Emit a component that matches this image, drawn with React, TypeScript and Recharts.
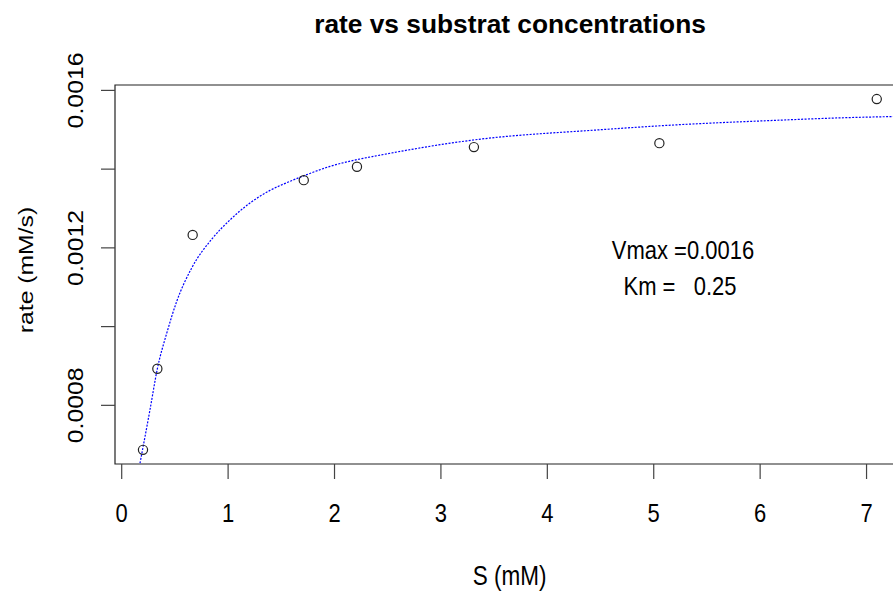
import React from 'react';
import { ComposedChart, Scatter, Line, XAxis, YAxis, ReferenceArea } from 'recharts';

// measured points (substrate mM, rate mM/s)
const sValues = [0.2, 0.335, 0.667, 1.711, 2.211, 3.31, 5.053, 7.096];
const rateValues = [0.000687, 0.000893, 0.001233, 0.001372, 0.001406, 0.001456, 0.001466, 0.001578];

// fitted curve
const curveS = [0.172, 0.266, 0.335, 0.423, 0.517, 0.658, 0.846, 1.018, 1.206, 1.394, 1.582, 1.739, 1.958, 2.209, 2.397, 3.305, 4.495, 5.247, 6.062, 6.845, 7.34];
const curveRate = [0.000653, 0.000789, 0.000893, 0.000983, 0.001064, 0.001149, 0.001222, 0.001271, 0.001314, 0.001346, 0.001369, 0.001386, 0.001407, 0.001424, 0.001434, 0.001474, 0.0015, 0.001513, 0.001523, 0.001531, 0.001534];

const xTicks = [0, 1, 2, 3, 4, 5, 6, 7];
const yTicks = [0.0008, 0.001, 0.0012, 0.0014, 0.0016];
const yTickLabels = ['0.0008', '', '0.0012', '', '0.0016'];

const xDomain: [number, number] = [-0.063, 7.352];
const yDomain: [number, number] = [0.000651, 0.0016137];

const points = sValues.map((s, i) => ({ s, v: rateValues[i] }));
const curve = curveS.map((s, i) => ({ s, v: curveRate[i] }));

const FONT = '"Liberation Sans", Arial, sans-serif';

const XTick = (props: any) => {
  const { x, y, payload } = props;
  return (
    <g transform={`translate(${x},${y + 40.7}) scale(1,1.2)`}>
      <text textAnchor="middle" fontFamily={FONT} fontSize={22} fill="#000">
        {payload.value}
      </text>
    </g>
  );
};

const YTick = (props: any) => {
  const { x, y, index } = props;
  const label = yTickLabels[index] ?? '';
  if (!label) return <g />;
  return (
    <g transform={`translate(${x - 15.7},${y}) rotate(-90) scale(1.13,1)`}>
      <text textAnchor="middle" fontFamily={FONT} fontSize={22} fill="#000">
        {label}
      </text>
    </g>
  );
};

const OpenCircle = (props: any) => {
  const { cx, cy } = props;
  return <circle cx={cx} cy={cy} r={4.6} fill="none" stroke="#222" strokeWidth={1.2} />;
};

const App: React.FC = () => {
  return (
    <div style={{ position: 'absolute', left: 0, top: 0, width: 893, height: 591, overflow: 'hidden', background: '#fff' }}>
      <ComposedChart width={910} height={591} margin={{ top: 85, right: 6, bottom: 0, left: 15 }}>
        <XAxis
          type="number"
          dataKey="s"
          domain={xDomain}
          ticks={xTicks}
          allowDataOverflow
          height={127}
          tickSize={15}
          tickMargin={2}
          axisLine={false}
          tickLine={{ stroke: '#444', strokeWidth: 1.2 }}
          tick={<XTick />}
        />
        <YAxis
          type="number"
          dataKey="v"
          domain={yDomain}
          ticks={yTicks}
          allowDataOverflow
          width={100}
          tickSize={14}
          tickMargin={2}
          axisLine={false}
          tickLine={{ stroke: '#444', strokeWidth: 1.2 }}
          tick={<YTick />}
        />
        <ReferenceArea
          x1={xDomain[0]}
          x2={xDomain[1]}
          y1={yDomain[0]}
          y2={yDomain[1]}
          fill="none"
          stroke="#222"
          strokeWidth={1.2}
          ifOverflow="visible"
        />
        <Line
          data={curve}
          dataKey="v"
          type="monotone"
          stroke="#0000ff"
          strokeWidth={1.2}
          strokeDasharray="2 1.4"
          dot={false}
          activeDot={false}
          isAnimationActive={false}
        />
        <Scatter data={points} dataKey="v" shape={<OpenCircle />} isAnimationActive={false} />
      </ComposedChart>

      <svg width={893} height={591} style={{ position: 'absolute', left: 0, top: 0, pointerEvents: 'none' }}>
        <text x={510} y={33} textAnchor="middle" fontFamily={FONT} fontWeight="bold" fontSize={26.3} fill="#000">
          rate vs substrat concentrations
        </text>
        <g transform="translate(509.7,585) scale(1,1.2)">
          <text textAnchor="middle" fontFamily={FONT} fontSize={22.5} fill="#000">S (mM)</text>
        </g>
        <g transform="translate(33,270) rotate(-90) scale(1.2,1)">
          <text textAnchor="middle" fontFamily={FONT} fontSize={20.6} fill="#000">rate (mM/s)</text>
        </g>
        <g transform="translate(683,259) scale(1,1.2)">
          <text textAnchor="middle" fontFamily={FONT} fontSize={22} fill="#000">Vmax =0.0016</text>
        </g>
        <g transform="translate(680,295) scale(1,1.2)">
          <text textAnchor="middle" fontFamily={FONT} fontSize={22} fill="#000" style={{ whiteSpace: 'pre' }}>
            {'Km =   0.25'}
          </text>
        </g>
      </svg>
    </div>
  );
};

export default App;
